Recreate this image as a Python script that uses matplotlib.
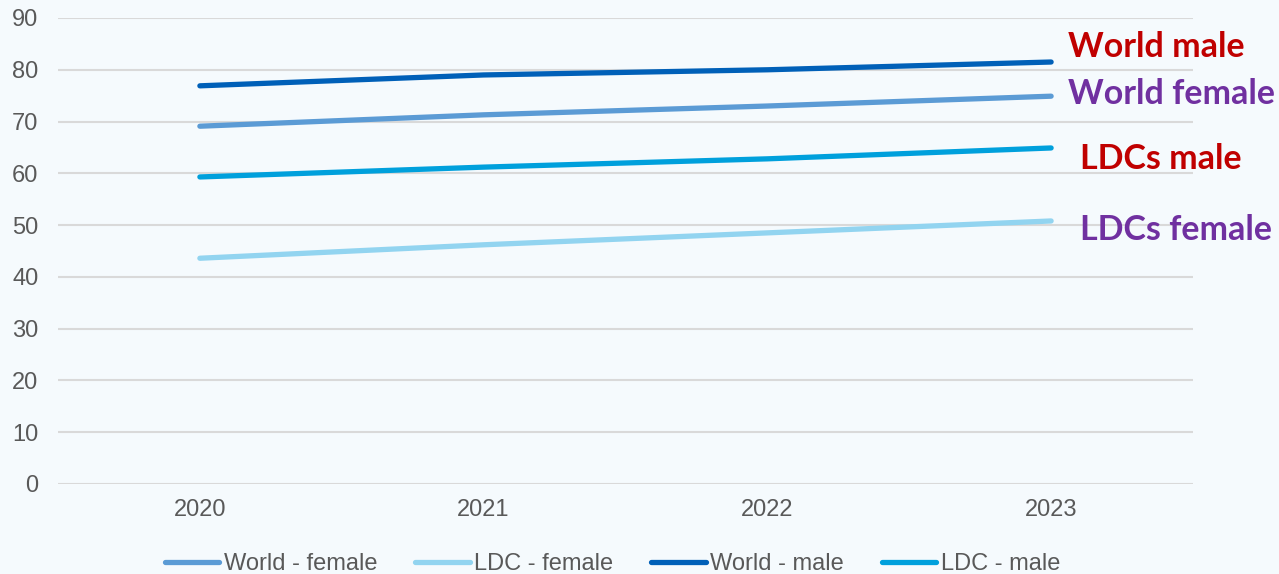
import numpy             as np
import matplotlib.pyplot as plt


# Chart data
years        = ['2020', '2021', '2022', '2023']
world_female = [69.1, 71.3, 73.0, 74.9]
ldc_female   = [43.6, 46.2, 48.5, 50.8]
world_male   = [76.9, 79.0, 80.0, 81.5]
ldc_male     = [59.3, 61.2, 62.8, 64.9]

series = [('World - female', world_female, '#5B9BD5'),
          ('LDC - female',   ldc_female,   '#92D4F0'),
          ('World - male',   world_male,   '#0060B8'),
          ('LDC - male',     ldc_male,     '#00A0DC')]

# End labels: (text, series, colour, x offset, y offset)
end_labels = [('World male',   world_male,   '#C00000', 0.06,  2.9),
              ('World female', world_female, '#7030A0', 0.06,  0.4),
              ('LDCs male',    ldc_male,     '#C00000', 0.10, -2.1),
              ('LDCs female',  ldc_female,   '#7030A0', 0.10, -1.8)]

bg   = '#F5FAFD'
grey = '#595959'

fig = plt.figure(figsize=(12.79, 5.74), dpi=100, facecolor=bg)
ax  = fig.add_axes([58 / 1279, 90 / 574, 1135 / 1279, 466 / 574], facecolor=bg)

x = np.arange(len(years))
for name, values, colour in series:
    ax.plot(x, values, color=colour, linewidth=3.8,
            solid_capstyle='round', label=name, zorder=3)

for text, values, colour, dx, dy in end_labels:
    ax.text(x[-1] + dx, values[-1] + dy, text, color=colour,
            fontsize=24.5, fontweight='bold', family='Lato',
            va='center', ha='left', clip_on=False)

#       Axes styling
ax.set_xlim(-0.5, 3.5)
ax.set_ylim(0, 90)
ax.set_yticks(range(0, 91, 10))
ax.set_xticks(x)
ax.set_xticklabels(years)
ax.grid(axis='y', color='#D9D9D9', linewidth=1.5, zorder=0)
ax.set_axisbelow(True)
for spine in ax.spines.values():
    spine.set_visible(False)
ax.tick_params(length=0, colors=grey, labelsize=17, pad=11)
for lab in ax.get_xticklabels() + ax.get_yticklabels():
    lab.set_family('Liberation Sans')
ax.tick_params(axis='y', pad=14)

#       Legend
leg = fig.legend(loc='lower center', bbox_to_anchor=(0.479, -0.039), ncol=4,
                 frameon=False, handlelength=2.3, handletextpad=0.2,
                 columnspacing=1.6,
                 prop={'family': 'Liberation Sans', 'size': 17})
for t in leg.get_texts():
    t.set_color(grey)

fig.savefig('out.png', dpi=100, facecolor=bg)
